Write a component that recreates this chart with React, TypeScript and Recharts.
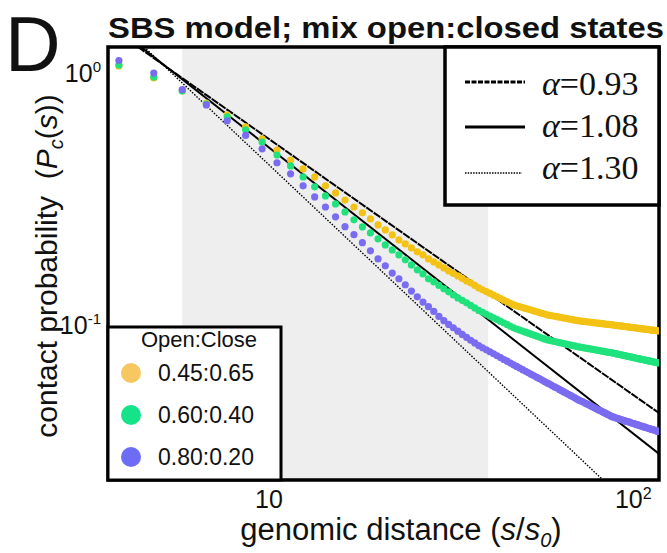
import React from "react";
import {
  ComposedChart,
  Scatter,
  Line,
  XAxis,
  YAxis,
  ReferenceArea,
} from "recharts";

// genomic distance s/s0 (one dot per integer step)
const distance = [
  4, 5, 6, 7, 8, 9, 10, 11, 12, 13, 14, 15, 16, 17, 18, 19, 20, 21, 22, 23, 24, 25, 26, 27, 28, 29, 30,
  31, 32, 33, 34, 35, 36, 37, 38, 39, 40, 41, 42, 43, 44, 45, 46, 47, 48, 49, 50, 51, 52, 53, 54, 55,
  56, 57, 58, 59, 60, 61, 62, 63, 64, 65, 66, 67, 68, 69, 70, 71, 72, 73, 74, 75, 76, 77, 78, 79, 80,
  81, 82, 83, 84, 85, 86, 87, 88, 89, 90, 91, 92, 93, 94, 95, 96, 97, 98, 99, 100, 101, 102, 103, 104,
  105, 106, 107, 108, 109, 110, 111, 112, 113, 114, 115, 116, 117, 118, 119, 120, 121, 122, 123, 124,
  125, 126,
];

// open:close 0.45:0.65
const mix045 = [
  1.056, 0.947, 0.841, 0.753, 0.675, 0.605, 0.542, 0.49, 0.447, 0.412, 0.383, 0.353, 0.331, 0.31, 0.291,
  0.276, 0.261, 0.247, 0.236, 0.2255, 0.2154, 0.2077, 0.2002, 0.1931, 0.1878, 0.1811, 0.1762, 0.1714,
  0.1668, 0.1623, 0.1586, 0.155, 0.1515, 0.1481, 0.1454, 0.1421, 0.1389, 0.1365, 0.1343, 0.1321, 0.13,
  0.128, 0.126, 0.1241, 0.1223, 0.1206, 0.1189, 0.1179, 0.117, 0.116, 0.1151, 0.1142, 0.1134, 0.1125,
  0.1117, 0.1109, 0.1101, 0.1094, 0.1086, 0.1081, 0.1077, 0.1072, 0.1068, 0.1064, 0.1059, 0.1055,
  0.1051, 0.1047, 0.1043, 0.1039, 0.1035, 0.1032, 0.1028, 0.1026, 0.1023, 0.1021, 0.1019, 0.1017,
  0.1015, 0.1012, 0.101, 0.1008, 0.1006, 0.1004, 0.1002, 0.1, 0.0998, 0.0996, 0.0995, 0.0993, 0.0991,
  0.0989, 0.0987, 0.0985, 0.0983, 0.0981, 0.098, 0.0978, 0.0976, 0.0974, 0.0972, 0.0971, 0.0969,
  0.0967, 0.0965, 0.0964, 0.0962, 0.096, 0.0959, 0.0957, 0.0956, 0.0954, 0.0953, 0.0951, 0.095,
  0.0948, 0.0947, 0.0945, 0.0944, 0.0942, 0.0941, 0.0939, 0.0938,
];

// open:close 0.60:0.40
const mix060 = [
  1.066, 0.955, 0.841, 0.746, 0.663, 0.589, 0.527, 0.468, 0.4236, 0.383, 0.3498, 0.322, 0.2994, 0.2783,
  0.2587, 0.2426, 0.2297, 0.2175, 0.2058, 0.1966, 0.1878, 0.1795, 0.1714, 0.1638, 0.1579, 0.1509,
  0.1468, 0.1421, 0.1377, 0.134, 0.1303, 0.1268, 0.124, 0.1212, 0.1184, 0.1157, 0.1131, 0.1111,
  0.1092, 0.1074, 0.1056, 0.104, 0.1023, 0.1008, 0.0993, 0.0978, 0.0964, 0.0954, 0.0945, 0.0936,
  0.0927, 0.0918, 0.091, 0.0902, 0.0894, 0.0886, 0.0878, 0.0871, 0.0864, 0.086, 0.0855, 0.0851,
  0.0847, 0.0843, 0.0839, 0.0835, 0.0831, 0.0828, 0.0824, 0.082, 0.0817, 0.0813, 0.081, 0.0807,
  0.0805, 0.0802, 0.0799, 0.0797, 0.0794, 0.0792, 0.0789, 0.0787, 0.0785, 0.0782, 0.078, 0.0778,
  0.0776, 0.0773, 0.0771, 0.0769, 0.0767, 0.0764, 0.0762, 0.076, 0.0757, 0.0755, 0.0752, 0.075,
  0.0748, 0.0745, 0.0743, 0.0741, 0.0739, 0.0737, 0.0734, 0.0732, 0.073, 0.0728, 0.0726, 0.0724,
  0.0722, 0.072, 0.0718, 0.0716, 0.0714, 0.0713, 0.0711, 0.0709, 0.0707, 0.0705, 0.0704, 0.0702, 0.07,
];

// open:close 0.80:0.20
const mix080 = [
  1.11, 0.99, 0.85, 0.74, 0.64, 0.56, 0.495, 0.436, 0.394, 0.353, 0.319, 0.291, 0.266, 0.243, 0.226,
  0.21, 0.195, 0.181, 0.17, 0.159, 0.151, 0.143, 0.135, 0.128, 0.122, 0.117, 0.112, 0.107, 0.103,
  0.0995, 0.0965, 0.0935, 0.0908, 0.0884, 0.0861, 0.084, 0.082, 0.0804, 0.0789, 0.0775, 0.0761,
  0.0747, 0.0735, 0.0722, 0.0711, 0.0699, 0.0688, 0.0678, 0.0668, 0.0658, 0.0648, 0.0639, 0.063,
  0.0622, 0.0614, 0.0606, 0.0598, 0.059, 0.0583, 0.0576, 0.0569, 0.0562, 0.0556, 0.0549, 0.0543,
  0.0537, 0.0531, 0.0525, 0.052, 0.0514, 0.0509, 0.0503, 0.0498, 0.0494, 0.049, 0.0485, 0.0481,
  0.0477, 0.0472, 0.0468, 0.0464, 0.046, 0.0456, 0.0453, 0.0449, 0.0445, 0.0442, 0.0438, 0.0435,
  0.0431, 0.0428, 0.0426, 0.0424, 0.0422, 0.042, 0.0418, 0.0416, 0.0414, 0.0412, 0.041, 0.0409,
  0.0407, 0.0405, 0.0403, 0.0402, 0.04, 0.0398, 0.0397, 0.0395, 0.0393, 0.0392, 0.039, 0.0389,
  0.0387, 0.0386, 0.0384, 0.0383, 0.0381, 0.038, 0.0379, 0.0377, 0.0376, 0.0374,
];

// power-law guide lines, end points
const fit093 = [
  { s: 4.52, p: 1.256 },
  { s: 126.7, p: 0.0443 },
];
const fit108 = [
  { s: 4.61, p: 1.256 },
  { s: 126.7, p: 0.0305 },
];
const fit130 = [
  { s: 4.7, p: 1.256 },
  { s: 88.6, p: 0.024 },
];

const xDomain = [3.73, 126.8];
const yDomain = [0.024, 1.256];
const xTicks = [10, 100];
const yTicks = [0.1, 1];
const shadeRange = [6, 42.5];

const series = [
  { name: "0.45:0.65", values: mix045, color: "#f3c214", legend: "#f7c862" },
  { name: "0.60:0.40", values: mix060, color: "#1fe27c", legend: "#14e38a" },
  { name: "0.80:0.20", values: mix080, color: "#7a6cf0", legend: "#6e6cf4" },
];

const sans = "'Liberation Sans', Arial, Helvetica, sans-serif";
const serif = "'Liberation Serif', 'Times New Roman', serif";

const dot = (color: string) => (props: any) =>
  <circle cx={props.cx} cy={props.cy} r={3.6} fill={color} />;

const YTick = (props: any) => {
  const { x, y, payload } = props;
  const exp = Math.round(Math.log10(payload.value));
  return (
    <text x={x - 7} y={y + 10} textAnchor="end" fontFamily={sans} fontSize={25} fill="#111">
      10
      <tspan dy={-10} fontSize={15}>{exp}</tspan>
    </text>
  );
};

const XTick = (props: any) => {
  const { x, y, payload } = props;
  const exp = Math.round(Math.log10(payload.value));
  return (
    <text x={x - 7} y={y + 28} textAnchor="start" fontFamily={sans} fontSize={25} fill="#111">
      10
      {exp !== 1 && <tspan dy={-9} fontSize={16}>{exp}</tspan>}
    </text>
  );
};

export default function App() {
  const rows = series.map((sr) =>
    distance.map((s, i) => ({ s, p: sr.values[i] }))
  );

  return (
    <div style={{ position: "absolute", left: 0, top: 0, width: 667, height: 553, background: "#fff" }}>
      <ComposedChart
        width={667}
        height={553}
        margin={{ top: 47, right: 8, bottom: 13, left: 8 }}
      >
        <XAxis
          dataKey="s"
          type="number"
          scale="log"
          domain={xDomain}
          allowDataOverflow
          ticks={xTicks}
          tick={<XTick />}
          tickLine={false}
          axisLine={false}
          tickSize={0}
          tickMargin={0}
          height={60}
          interval={0}
        />
        <YAxis
          dataKey="p"
          type="number"
          scale="log"
          domain={yDomain}
          allowDataOverflow
          ticks={yTicks}
          tick={<YTick />}
          tickLine={false}
          axisLine={false}
          tickSize={0}
          tickMargin={0}
          width={100}
          interval={0}
        />
        <ReferenceArea
          x1={shadeRange[0]}
          x2={shadeRange[1]}
          y1={yDomain[0]}
          y2={yDomain[1]}
          fill="#eeeeee"
          fillOpacity={1}
          stroke="none"
        />
        {series.map((sr, i) => (
          <Scatter
            key={sr.name}
            name={sr.name}
            data={rows[i]}
            dataKey="p"
            shape={dot(sr.color)}
            isAnimationActive={false}
          />
        ))}
        <Line data={fit093} dataKey="p" stroke="#000" strokeWidth={2} strokeDasharray="8 1" dot={false} isAnimationActive={false} />
        <Line data={fit108} dataKey="p" stroke="#000" strokeWidth={2} dot={false} isAnimationActive={false} />
        <Line data={fit130} dataKey="p" stroke="#000" strokeWidth={1.4} strokeDasharray="1.5 1.5" dot={false} isAnimationActive={false} />
        <ReferenceArea
          x1={xDomain[0]}
          x2={xDomain[1]}
          y1={yDomain[0]}
          y2={yDomain[1]}
          fill="none"
          stroke="#000"
          strokeWidth={3.5}
        />
      </ComposedChart>

      <svg
        width={667}
        height={553}
        style={{ position: "absolute", left: 0, top: 0, pointerEvents: "none" }}
      >
        <text x={5} y={71} fontFamily={sans} fontSize={77} fill="#111">D</text>
        <text
          x={108}
          y={38}
          fontFamily={sans}
          fontWeight="bold"
          fontSize={29}
          textLength={556}
          lengthAdjust="spacingAndGlyphs"
          fill="#111"
        >
          SBS model; mix open:closed states
        </text>

        <text
          transform="translate(57,266) rotate(-90)"
          textAnchor="middle"
          fontFamily={sans}
          fontSize={30}
          fill="#111"
          style={{ whiteSpace: "pre" }}
        >
          {"contact probability  ("}
          <tspan fontStyle="italic">P</tspan>
          <tspan dy={6} fontSize={20} fontStyle="italic">c</tspan>
          <tspan dy={-6}>(</tspan>
          <tspan fontStyle="italic">s</tspan>))
        </text>

        <text x={401} y={540} textAnchor="middle" fontFamily={sans} fontSize={31} fill="#111">
          genomic distance (<tspan fontStyle="italic">s</tspan>/<tspan fontStyle="italic">s</tspan>
          <tspan dy={7} fontSize={20} fontStyle="italic">0</tspan>
          <tspan dy={-7}>)</tspan>
        </text>

        {/* alpha legend */}
        <rect x={445} y={47} width={214} height={158} fill="#fff" stroke="#000" strokeWidth={3.5} />
        <line x1={465} y1={82} x2={525} y2={82} stroke="#000" strokeWidth={3} strokeDasharray="5 1.5" />
        <line x1={465} y1={127} x2={525} y2={127} stroke="#000" strokeWidth={3} />
        <line x1={465} y1={173} x2={522} y2={173} stroke="#000" strokeWidth={1.6} strokeDasharray="1.5 1.2" />
        {["0.93", "1.08", "1.30"].map((a, i) => (
          <text key={a} x={542} y={95 + i * 42} fontFamily={serif} fontSize={34} fill="#111">
            <tspan fontStyle="italic">α</tspan>={a}
          </text>
        ))}

        {/* mix legend */}
        <rect x={108} y={327} width={173} height={153} fill="#fff" stroke="#000" strokeWidth={3} />
        <text x={199} y={347} textAnchor="middle" fontFamily={sans} fontSize={22} fill="#111">
          Open:Close
        </text>
        {series.map((sr, i) => (
          <g key={sr.name}>
            <circle cx={131} cy={373 + i * 42} r={10} fill={sr.legend} />
            <text x={158} y={381 + i * 42} fontFamily={sans} fontSize={23} fill="#111">
              {sr.name}
            </text>
          </g>
        ))}
      </svg>
    </div>
  );
}
